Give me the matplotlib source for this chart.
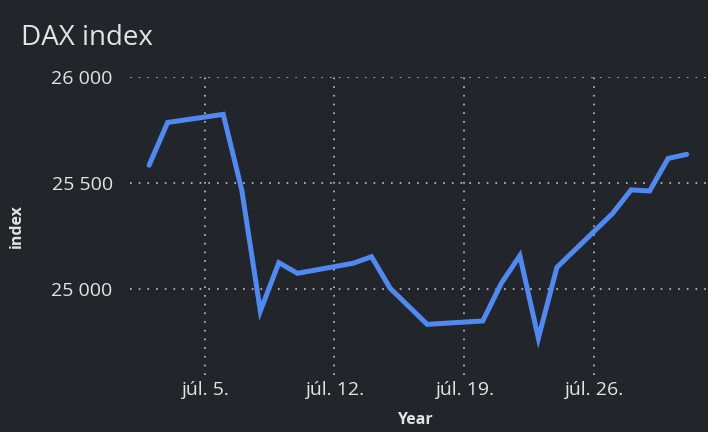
import numpy as np
import matplotlib
matplotlib.use("Agg")
import matplotlib.pyplot as plt
import matplotlib.dates as mdates
from matplotlib.ticker import FuncFormatter

# DAX closing values, July
days = [2, 3, 6, 7, 8, 9, 10, 13, 14, 15, 17, 20, 21, 22, 23, 24, 27, 28, 29, 30, 31]
values = [25583, 25784, 25822, 25466, 24898, 25125, 25075, 25122, 25153, 25005,
          24835, 24851, 25028, 25158, 24770, 25103, 25356, 25467, 25462, 25615, 25634]
y_ticks = [25000, 25500, 26000]
x_tick_days = [5, 12, 19, 26]

dates = np.array([np.datetime64(f"2025-07-{d:02d}") for d in days])

bg = "#222529"
fg = "#e3e3e3"
line_col = "#5189f3"

plt.rcParams["font.family"] = ["Open Sans", "DejaVu Sans"]

fig = plt.figure(figsize=(7.08, 4.32), dpi=100, facecolor=bg)
ax = fig.add_axes([130 / 708, 57 / 432, 578 / 708, 298.5 / 432], facecolor=bg)

ax.plot(dates, values, color=line_col, linewidth=3.6, solid_capstyle="round",
        solid_joinstyle="miter")

ax.set_ylim(24597, 26000)
x0 = mdates.date2num(np.datetime64("2025-07-01")) - 0.03
ax.set_xlim(x0, x0 + 31.18)

ax.set_yticks(y_ticks)
ax.yaxis.set_major_formatter(FuncFormatter(lambda v, p: f"{int(v):,}".replace(",", " ")))
ax.set_xticks([mdates.date2num(np.datetime64(f"2025-07-{d:02d}")) for d in x_tick_days])
ax.xaxis.set_major_formatter(FuncFormatter(lambda v, p: f"júl. {mdates.num2date(v).day}."))

ax.tick_params(length=0, labelsize=14, colors=fg)
ax.tick_params(axis="y", pad=12.5)
ax.tick_params(axis="x", pad=4)

ax.grid(True, color="#c4c4c4", linewidth=1.2, linestyle=(0, (1, 4.22)))
ax.set_axisbelow(True)
for s in ax.spines.values():
    s.set_visible(False)

ax.set_xlabel("Year", fontsize=11.5, fontweight="bold", color=fg)
ax.xaxis.set_label_coords(0.493, -0.123)
ax.set_ylabel("index", fontsize=11.5, fontweight="bold", color=fg)
ax.yaxis.set_label_coords(-0.182, 0.5)

fig.text(21 / 708, 1 - 45 / 432, "DAX index", fontsize=20, color=fg,
         ha="left", va="baseline")

fig.savefig("out.png", dpi=100, facecolor=bg)
